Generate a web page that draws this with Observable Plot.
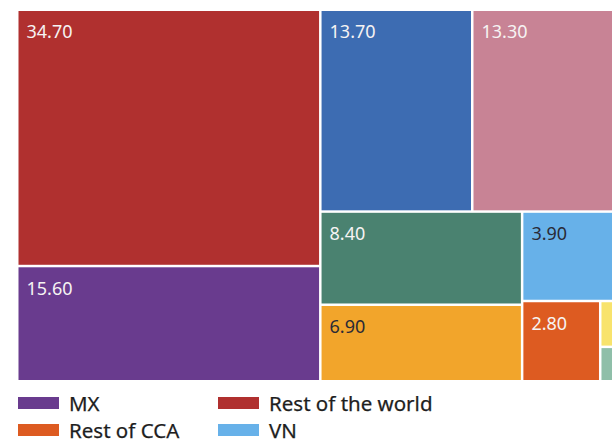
<!DOCTYPE html>
<html>
<head>
<meta charset="utf-8">
<script src="https://cdn.jsdelivr.net/npm/d3@7"></script>
<script src="https://cdn.jsdelivr.net/npm/@observablehq/plot@0.6"></script>
<style>
  html, body { margin: 0; padding: 0; background: #fff; overflow: hidden; }
  #wrap { position: relative; width: 612px; height: 443px; font-family: "Noto Sans", sans-serif; }
  #chart { position: absolute; left: 0; top: 0; }
  .item { position: absolute; display: flex; align-items: center; height: 16px; }
  .sw { width: 41px; height: 12px; margin-right: 10px; flex: none; }
  .lb { font-size: 20.5px; line-height: 16px; color: #1e1e1e; white-space: nowrap; -webkit-text-stroke: 0.25px #1e1e1e; }
</style>
</head>
<body>
<div id="wrap">
  <div id="chart"></div>
  <div id="legend"></div>
</div>
<script>
// Share of total by origin
const categories = ["Rest of the world", "MX", "Group 1", "Group 2", "Group 3", "Group 4", "VN", "Rest of CCA", "Group 5", "Group 6"];
const values = [34.7, 15.6, 13.7, 13.3, 8.4, 6.9, 3.9, 2.8, 0.4, 0.3];
const colors = ["#B0302F", "#693B8E", "#3D6CB2", "#C88395", "#4A8270", "#F2A52B", "#67B1E9", "#DD5B21", "#F8E36C", "#8FBFA9"];
const darkLabels = ["Group 4", "VN"];
const legendItems = ["MX", "Rest of the world", "Rest of CCA", "VN"];

const W = 600, H = 369;
const root = d3.hierarchy({children: categories.map((name, i) => ({name, value: values[i]}))})
  .sum(d => d.value || 0)
  .sort((a, b) => b.value - a.value);
d3.treemap().tile(d3.treemapSquarify).size([W, H]).paddingInner(2.5)(root);
const leaves = root.leaves();
const labelled = leaves.filter(d => d.value >= 1);

const fmt = d => d.value.toFixed(2);
const textOpts = {
  x: d => d.x0, y: d => d.y0, text: fmt,
  textAnchor: "start", lineAnchor: "top", dx: 7.5, dy: 14, fontSize: 18
};

const plot = Plot.plot({
  width: 612,
  height: 384,
  x: {domain: [0, W], range: [18.5, 18.5 + W], axis: null},
  y: {domain: [0, H], range: [11, 11 + H], axis: null},
  color: {domain: categories, range: colors},
  style: {fontFamily: "Noto Sans", background: "white"},
  marks: [
    Plot.rect(leaves, {x1: d => d.x0, x2: d => d.x1, y1: d => d.y0, y2: d => d.y1, fill: d => d.data.name}),
    Plot.text(labelled.filter(d => !darkLabels.includes(d.data.name)), {...textOpts, fill: "#F6F3F3"}),
    Plot.text(labelled.filter(d => darkLabels.includes(d.data.name)), {...textOpts, fill: "#2A2A36"})
  ]
});
document.getElementById("chart").appendChild(plot);

// Legend: two columns, two rows
const legend = document.getElementById("legend");
legendItems.forEach((name, i) => {
  const col = i % 2, row = Math.floor(i / 2);
  const el = document.createElement("div");
  el.className = "item";
  el.style.left = (18 + col * 200) + "px";
  el.style.top = (395 + row * 27) + "px";
  el.innerHTML = `<span class="sw" style="background:${colors[categories.indexOf(name)]}"></span><span class="lb">${name}</span>`;
  legend.appendChild(el);
});
</script>
</body>
</html>
